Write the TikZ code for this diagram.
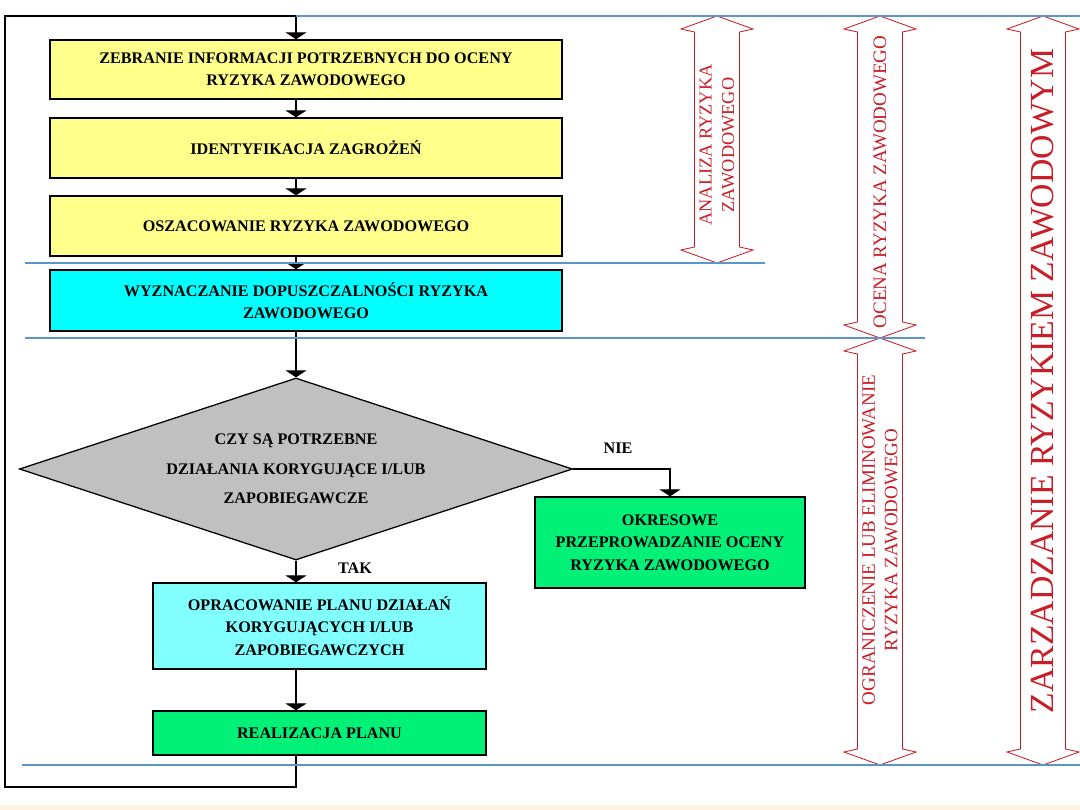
\documentclass[tikz,border=0pt]{standalone}
\usepackage{fontspec}
\setmainfont{Liberation Serif}
\usetikzlibrary{shapes.geometric,arrows.meta}

\definecolor{boxyellow}{RGB}{255,255,140}
\definecolor{boxcyan}{RGB}{0,255,255}
\definecolor{boxlightcyan}{RGB}{130,255,255}
\definecolor{boxgreen}{RGB}{0,240,120}
\definecolor{decgray}{RGB}{192,192,192}
\definecolor{sepblue}{RGB}{90,150,205}
\definecolor{bandred}{RGB}{200,30,40}
\definecolor{cream}{RGB}{253,243,222}

\begin{document}
\begin{tikzpicture}[x=0.025cm, y=-0.025cm,
    box/.style={draw=black, line width=0.9pt, align=center, inner sep=2pt,
        font=\fontsize{11.5}{16}\selectfont\bfseries},
    decision/.style={draw=black, line width=0.9pt, shape=diamond, inner sep=0pt,
        fill=decgray, minimum width=13.825cm, minimum height=4.55cm},
    flow/.style={line width=0.9pt, -{Triangle[width=15pt,length=5pt]}},
    link/.style={line width=0.9pt},
    sep/.style={draw=sepblue, line width=0.8pt},
    band/.style={draw=bandred, line width=0.6pt, fill=white},
    bandtext/.style={text=bandred, rotate=90, align=center}]
        \useasboundingbox (0,0) rectangle (1080,810);
        \fill[cream] (0,805) rectangle (1080,810);

        % Steps
        \node[box, fill=boxyellow, minimum width=12.8cm, minimum height=1.475cm] (zebranie) at (306,69.5)
            {ZEBRANIE INFORMACJI POTRZEBNYCH DO OCENY\\RYZYKA ZAWODOWEGO};
        \node[box, fill=boxyellow, minimum width=12.8cm, minimum height=1.5cm] (identyf) at (306,148)
            {IDENTYFIKACJA ZAGROŻEŃ};
        \node[box, fill=boxyellow, minimum width=12.8cm, minimum height=1.5cm] (oszac) at (306,226)
            {OSZACOWANIE RYZYKA ZAWODOWEGO};
        \node[box, fill=boxcyan, minimum width=12.8cm, minimum height=1.525cm] (wyznacz) at (306,300.5)
            {WYZNACZANIE DOPUSZCZALNOŚCI RYZYKA\\ZAWODOWEGO};

        % Decision
        \node[decision] (decyzja) at (296,469) {};
        \node[align=center, font=\fontsize{11.5}{21}\selectfont\bfseries] (pytanie) at (decyzja)
            {CZY SĄ POTRZEBNE\\DZIAŁANIA KORYGUJĄCE I/LUB\\ZAPOBIEGAWCZE};
        \node[font=\fontsize{11.5}{14}\selectfont\bfseries] (nie) at (618,448) {NIE};
        \node[font=\fontsize{11.5}{14}\selectfont\bfseries] (tak) at (355,568) {TAK};

        \node[box, fill=boxgreen, minimum width=6.75cm, minimum height=2.275cm] (okresowe) at (670,542.5)
            {OKRESOWE\\PRZEPROWADZANIE OCENY\\RYZYKA ZAWODOWEGO};
        \node[box, fill=boxlightcyan, minimum width=8.325cm, minimum height=2.15cm] (opracowanie) at (319.5,626)
            {OPRACOWANIE PLANU DZIAŁAŃ\\KORYGUJĄCYCH I/LUB\\ZAPOBIEGAWCZYCH};
        \node[box, fill=boxgreen, minimum width=8.325cm, minimum height=1.1cm] (realizacja) at (319.5,733)
            {REALIZACJA PLANU};

        % Loop back to the top
        \coordinate (ft) at (296,16);
        \coordinate (lt) at (5,16);
        \coordinate (lb) at (5,787);
        \coordinate (fb) at (296,787);
        \draw[link] (realizacja.south -| fb) -- (fb) -- (lb) -- (lt) -- (ft);

        % Arrows
        \draw[flow] (ft) -- (ft |- zebranie.north);
        \draw[flow] (zebranie.south -| ft) -- (identyf.north -| ft);
        \draw[flow] (identyf.south -| ft) -- (oszac.north -| ft);
        \draw[flow] (oszac.south -| ft) -- (wyznacz.north -| ft);
        \draw[flow] (wyznacz.south -| ft) -- (decyzja.north);
        \draw[flow] (decyzja.south) -- (opracowanie.north -| decyzja.south);
        \draw[flow] (decyzja.east) -| (okresowe.north);
        \draw[flow] (opracowanie.south -| ft) -- (realizacja.north -| ft);

        % Hollow double arrows
        \draw[band] (717,16) -- (753,29) -- (739.5,32) -- (739.5,247) -- (753,250) -- (717,263)
            -- (681,250) -- (694.5,247) -- (694.5,32) -- (681,29) -- cycle;
        \draw[band] (880,16) -- (916,29) -- (902.5,32) -- (902.5,322) -- (916,325) -- (880,338)
            -- (844,325) -- (857.5,322) -- (857.5,32) -- (844,29) -- cycle;
        \draw[band] (880,338) -- (916,351) -- (902.5,354) -- (902.5,749) -- (916,752) -- (880,765)
            -- (844,752) -- (857.5,749) -- (857.5,354) -- (844,351) -- cycle;
        \draw[band] (1043,16) -- (1079,29) -- (1065.5,32) -- (1065.5,749) -- (1079,752) -- (1043,765)
            -- (1007,752) -- (1020.5,749) -- (1020.5,32) -- (1007,29) -- cycle;

        \node[bandtext, font=\fontsize{13}{16}\selectfont] (analiza) at (717,145)
            {ANALIZA RYZYKA\\ZAWODOWEGO};
        \node[bandtext, font=\fontsize{13.5}{16}\selectfont] (ocena) at (880,182)
            {OCENA RYZYKA ZAWODOWEGO};
        \node[bandtext, font=\fontsize{13.5}{16}\selectfont] (ogranicz) at (880,540)
            {OGRANICZENIE LUB ELIMINOWANIE\\RYZYKA ZAWODOWEGO};
        \node[bandtext, font=\fontsize{24}{28}\selectfont] (zarzadz) at (1043,381)
            {ZARZADZANIE RYZYKIEM ZAWODOWYM};

        % Separators
        \draw[sep] (ft) -- (1080,16);
        \draw[sep] (25,263) -- (765,263);
        \draw[sep] (25,338) -- (925,338);
        \draw[sep] (22,765) -- (1080,765);
\end{tikzpicture}
\end{document}
